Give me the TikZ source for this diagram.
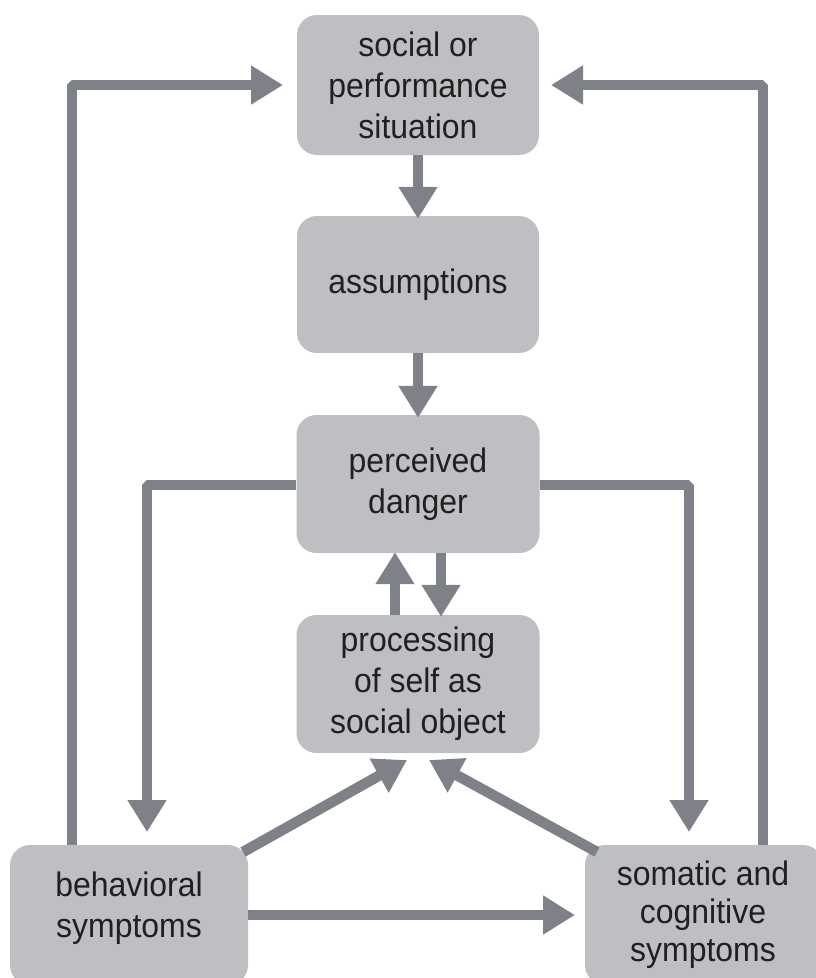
\documentclass[tikz,border=0pt]{standalone}
\usepackage{fontspec}
\setmainfont{Liberation Sans}
\newfontfamily\boxfont[FakeStretch=0.94]{Liberation Sans}
\usetikzlibrary{arrows.meta}
\definecolor{boxfill}{HTML}{BEBFC3}
\definecolor{arrowgray}{HTML}{7F8188}
\definecolor{textdark}{HTML}{231F20}
\begin{document}
\begin{tikzpicture}[x=1pt,y=-1pt,
  box/.style={fill=boxfill, draw=none, rounded corners=20pt, inner sep=0pt,
    align=center, text=textdark, font=\boxfont\fontsize{34}{41}\selectfont},
  boxtext/.style={align=center, text=textdark, inner sep=0pt},
  conn/.style={draw=arrowgray, line width=10.5pt, line join=bevel,
    -{Triangle[width=37pt,length=32pt]}}]
\clip (0,0) rectangle (816,978);
\node[box, minimum width=242pt, minimum height=140pt] (b1) at (418,85) {social or\\performance\\situation};
\node[box, minimum width=242pt, minimum height=137pt] (b2) at (418,284.5) {assumptions};
\node[box, minimum width=243pt, minimum height=138pt] (b3) at (418,484) {perceived\\danger};
\node[box, minimum width=243pt, minimum height=138pt] (b4) at (418,684) {processing\\of self as\\social object};
\node[box, minimum width=238pt, minimum height=140pt] (b5) at (129,915) {};
\node[boxtext, font=\boxfont\fontsize{34}{41}\selectfont] (t5) at (129,908) {behavioral\\symptoms};
\node[box, minimum width=238pt, minimum height=140pt] (b6) at (704,915) {};
\node[boxtext, font=\boxfont\fontsize{34}{38}\selectfont] (t6) at (703,915) {somatic and\\cognitive\\symptoms};
% free ends of connectors
\coordinate (lTop) at (72,85);
\coordinate (lEnd) at (283,85);
\coordinate (rTop) at (763,85);
\coordinate (rEnd) at (551,85);
\coordinate (lCorner) at (147,485);
\coordinate (lTip) at (147,832);
\coordinate (rCorner) at (689,485);
\coordinate (rTip) at (689,832);
\coordinate (dlStart) at (243,852);
\coordinate (dlTip) at (407,760);
\coordinate (drStart) at (597,852);
\coordinate (drTip) at (429,760);
\coordinate (hEnd) at (575,915);
% connectors
\draw[conn] (b1.south) -- ([yshift=-3pt]b2.north);
\draw[conn] (b2.south) -- ([yshift=-3pt]b3.north);
\draw[conn] ([xshift=-23pt]b4.north) -- ([xshift=-23pt,yshift=1pt]b3.south);
\draw[conn] ([xshift=23pt]b3.south) -- ([xshift=23pt,yshift=-2pt]b4.north);
\draw[conn] (b5.north -| lTop) -- (lTop) -- (lEnd);
\draw[conn] (b6.north -| rTop) -- (rTop) -- (rEnd);
\draw[conn] (b3.west |- lCorner) -- (lCorner) -- (lTip);
\draw[conn] (b3.east |- rCorner) -- (rCorner) -- (rTip);
\draw[conn] (b5.east |- hEnd) -- (hEnd);
\draw[conn] (dlStart) -- (dlTip);
\draw[conn] (drStart) -- (drTip);
\end{tikzpicture}
\end{document}
